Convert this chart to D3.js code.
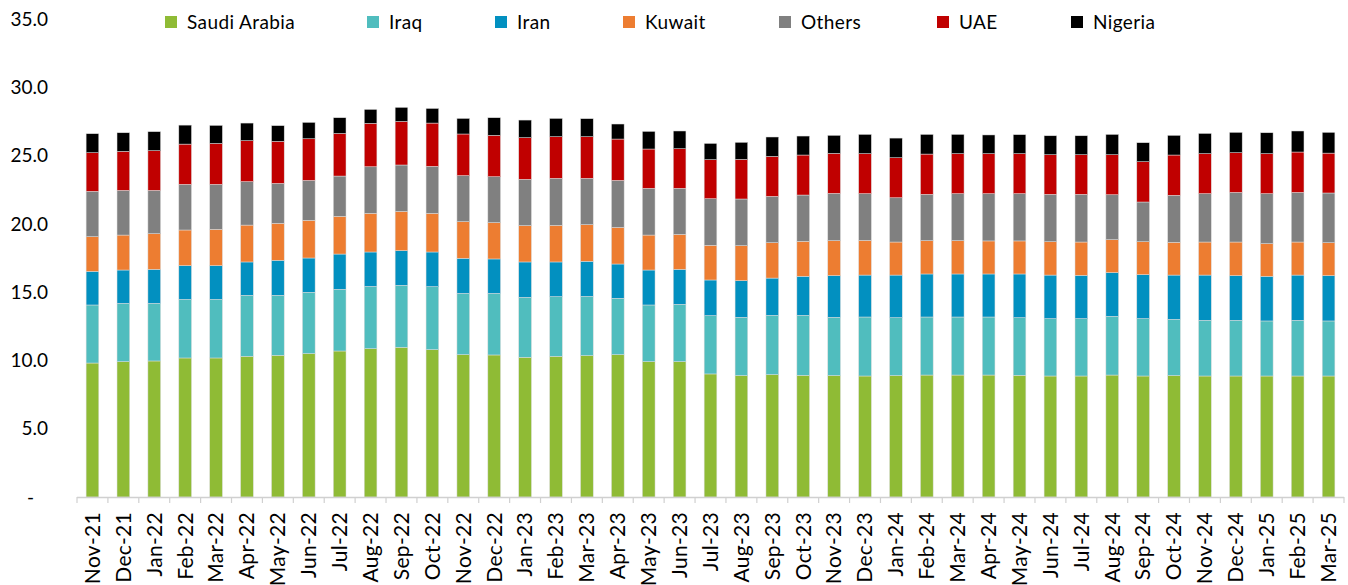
<!DOCTYPE html>
<html>
<head>
<meta charset="utf-8">
<script src="https://cdn.jsdelivr.net/npm/d3@7"></script>
<style>
  body { margin: 0; background: #fff; }
  svg { display: block; font-family: Lato, "Open Sans", sans-serif; }
</style>
</head>
<body>
<script>
"use strict";

// months on the x axis
var months = ["Nov-21","Dec-21","Jan-22","Feb-22","Mar-22","Apr-22","May-22","Jun-22","Jul-22","Aug-22",
  "Sep-22","Oct-22","Nov-22","Dec-22","Jan-23","Feb-23","Mar-23","Apr-23","May-23","Jun-23",
  "Jul-23","Aug-23","Sep-23","Oct-23","Nov-23","Dec-23","Jan-24","Feb-24","Mar-24","Apr-24",
  "May-24","Jun-24","Jul-24","Aug-24","Sep-24","Oct-24","Nov-24","Dec-24","Jan-25","Feb-25","Mar-25"];

var saudi   = [9.81,9.91,9.96,10.18,10.18,10.30,10.37,10.50,10.69,10.86,10.96,10.79,10.42,10.40,10.23,10.30,10.35,10.42,9.91,9.91,
  9.01,8.89,8.96,8.91,8.89,8.86,8.89,8.93,8.93,8.93,8.91,8.86,8.86,8.93,8.86,8.89,8.86,8.86,8.86,8.86,8.86];
var iraq    = [4.25,4.27,4.22,4.29,4.29,4.47,4.40,4.49,4.52,4.56,4.54,4.61,4.49,4.51,4.39,4.37,4.34,4.13,4.15,4.20,
  4.27,4.27,4.34,4.39,4.27,4.32,4.24,4.25,4.25,4.25,4.22,4.20,4.20,4.30,4.20,4.12,4.08,4.08,4.03,4.08,4.03];
var iran    = [2.46,2.44,2.49,2.47,2.47,2.44,2.56,2.51,2.58,2.52,2.54,2.54,2.57,2.52,2.59,2.54,2.57,2.51,2.56,2.56,
  2.61,2.68,2.73,2.86,3.05,3.07,3.12,3.15,3.15,3.15,3.20,3.19,3.17,3.20,3.22,3.24,3.31,3.27,3.27,3.31,3.32];
var kuwait  = [2.54,2.56,2.61,2.61,2.66,2.70,2.71,2.76,2.76,2.83,2.87,2.83,2.68,2.66,2.66,2.68,2.68,2.68,2.56,2.56,
  2.54,2.56,2.59,2.56,2.56,2.54,2.42,2.44,2.44,2.42,2.42,2.44,2.44,2.41,2.41,2.40,2.42,2.46,2.39,2.42,2.41];
var others  = [3.32,3.27,3.17,3.34,3.29,3.18,2.92,2.92,2.95,3.41,3.40,3.44,3.37,3.36,3.39,3.44,3.39,3.44,3.42,3.37,
  3.41,3.42,3.39,3.39,3.46,3.42,3.24,3.39,3.44,3.46,3.46,3.47,3.49,3.29,2.91,3.44,3.54,3.63,3.66,3.63,3.64];
var uae     = [2.83,2.86,2.91,2.95,3.00,3.00,3.08,3.05,3.12,3.18,3.19,3.17,3.05,3.03,3.05,3.05,3.05,3.03,2.88,2.90,
  2.86,2.90,2.93,2.93,2.93,2.93,2.93,2.95,2.93,2.93,2.93,2.90,2.90,2.93,2.95,2.95,2.93,2.91,2.93,2.96,2.92];
var nigeria = [1.39,1.36,1.39,1.39,1.32,1.29,1.15,1.20,1.15,1.02,1.03,1.07,1.14,1.29,1.29,1.34,1.32,1.10,1.29,1.30,
  1.19,1.25,1.42,1.39,1.32,1.41,1.44,1.44,1.41,1.37,1.39,1.39,1.39,1.49,1.39,1.44,1.48,1.49,1.53,1.54,1.52];

var seriesNames = ["Saudi Arabia","Iraq","Iran","Kuwait","Others","UAE","Nigeria"];
var seriesValues = [saudi, iraq, iran, kuwait, others, uae, nigeria];
var colors = ["#8fbb35","#50bdbe","#0290c0","#ed7d31","#808080","#c00000","#000000"];
var yTicks = [0,5,10,15,20,25,30,35];

var width = 1348, height = 585;
var svg = d3.select("body").append("svg")
    .attr("width", width)
    .attr("height", height);

var x = d3.scaleBand()
    .domain(months)
    .range([77, 1344])
    .paddingInner(0.59)
    .paddingOuter(0.295);

var y = d3.scaleLinear()
    .domain([0, 35])
    .range([497, 19]);

// one row per month for d3.stack
var rows = months.map(function(m, i){
  var r = {month: m};
  seriesNames.forEach(function(s, j){ r[s] = seriesValues[j][i]; });
  return r;
});

var stacked = d3.stack().keys(seriesNames)(rows);

svg.append("g")
  .selectAll("g")
  .data(stacked)
  .enter().append("g")
    .attr("fill", function(d, i){ return colors[i]; })
  .selectAll("rect")
  .data(function(d){ return d; })
  .enter().append("rect")
    .attr("x", function(d){ return x(d.data.month); })
    .attr("y", function(d){ return y(d[1]); })
    .attr("width", x.bandwidth())
    .attr("height", function(d){ return y(d[0]) - y(d[1]); })
    .style("stroke", "#dcdcdc")
    .style("stroke-width", "0.5");

// y labels, excel style "-" for zero
var yAxis = svg.append("g");
yAxis.selectAll("text")
  .data(yTicks)
  .enter().append("text")
    .attr("x", function(d){ return d === 0 ? 34 : 48; })
    .attr("y", function(d){ return y(d); })
    .attr("dy", "0.35em")
    .attr("text-anchor", "end")
    .style("font-size", "19px")
    .style("fill", "#000")
    .text(function(d){ return d === 0 ? "-" : d.toFixed(1); });

// x axis line and tick marks between categories
var xAxis = svg.append("g");
xAxis.append("line")
    .attr("x1", 77).attr("x2", 1344)
    .attr("y1", 497.5).attr("y2", 497.5)
    .style("stroke", "#d0d0d0")
    .style("stroke-width", "1.5");

var step = x.step();
xAxis.selectAll(".tk")
  .data(months.concat(["end"]))
  .enter().append("line")
    .attr("class", "tk")
    .attr("x1", function(d, i){ return 77 + i * step; })
    .attr("x2", function(d, i){ return 77 + i * step; })
    .attr("y1", 497).attr("y2", 503)
    .style("stroke", "#d0d0d0")
    .style("stroke-width", "1.2");

xAxis.selectAll(".lbl")
  .data(months)
  .enter().append("text")
    .attr("class", "lbl")
    .attr("transform", function(d){
      return "translate(" + (x(d) + x.bandwidth() / 2) + ",512) rotate(-90)";
    })
    .attr("dy", "0.35em")
    .attr("text-anchor", "end")
    .style("font-size", "21px")
    .style("letter-spacing", "0.3px")
    .style("fill", "#000")
    .text(function(d){ return d; });

// legend
var legendX = [165, 367, 495, 623, 779, 937, 1071];
var legend = svg.append("g");
var items = legend.selectAll("g")
  .data(seriesNames)
  .enter().append("g")
    .attr("transform", function(d, i){ return "translate(" + legendX[i] + ",22)"; });

items.append("rect")
    .attr("x", 0).attr("y", -6)
    .attr("width", 12).attr("height", 12)
    .attr("fill", function(d, i){ return colors[i]; });

items.append("text")
    .attr("x", 22)
    .attr("dy", "0.35em")
    .style("font-size", "19px")
    .style("letter-spacing", "0.4px")
    .style("fill", "#000")
    .text(function(d){ return d; });
</script>
</body>
</html>
